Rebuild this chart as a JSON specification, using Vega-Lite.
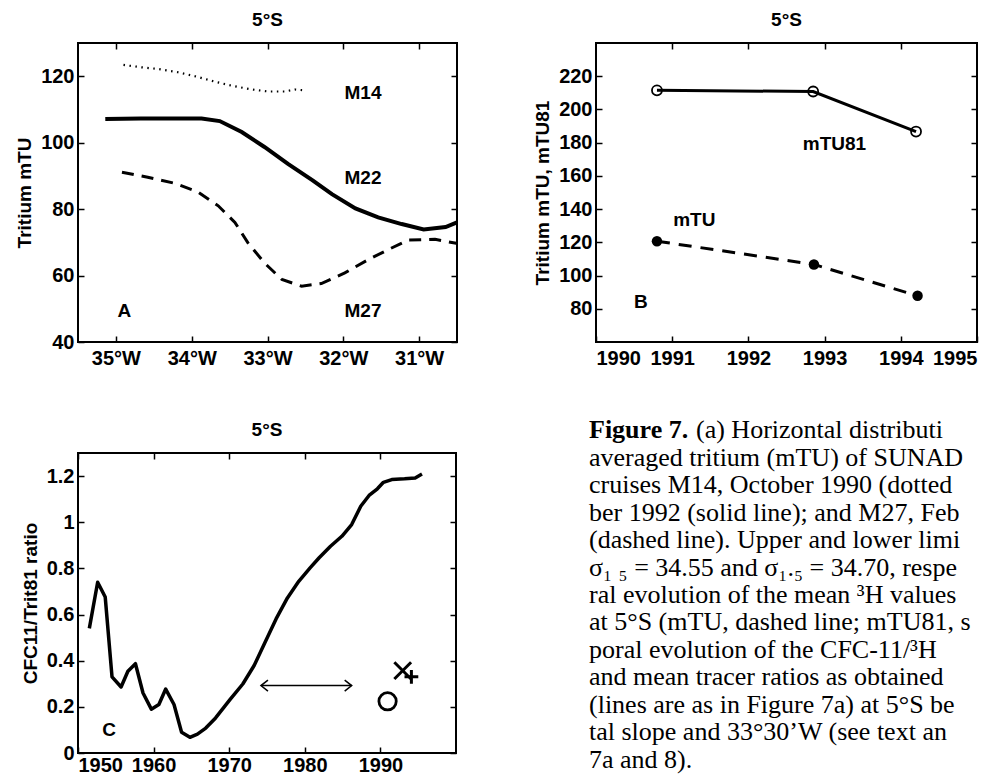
{
  "$schema": "https://vega.github.io/schema/vega-lite/v6.json",
  "padding": {"left": 14, "top": 10, "right": 0, "bottom": 0},
  "background": "white",
  "config": {
    "font": "Liberation Sans",
    "view": {"stroke": "black", "strokeWidth": 2},
    "axis": {"domain": false, "grid": false, "labelFont": "Liberation Sans", "labelFontSize": 20, "labelFontWeight": "bold", "labelColor": "black", "titleFont": "Liberation Sans", "titleFontSize": 19, "titleFontWeight": "bold", "titleColor": "black", "tickColor": "black", "tickSize": -6, "tickWidth": 1.5, "labelPadding": 10, "titlePadding": 6},
    "axisX": {"labelPadding": 12},
    "title": {"font": "Liberation Sans", "fontSize": 19, "fontWeight": "bold", "color": "black", "offset": 12},
    "text": {"font": "Liberation Sans", "fontSize": 19, "fontWeight": "bold", "color": "black"}
  },
  "columns": 2,
  "spacing": {"row": 111, "column": 139},
  "bounds": "flush",
  "concat": [
    {
      "width": 379, "height": 299,
      "title": "5°S",
      "resolve": {"axis": {"x": "independent", "y": "independent"}},
      "data": {"values": [
        {"cruise": "M14", "lon": 34.90, "tritium": 123.4},
        {"cruise": "M14", "lon": 34.67, "tritium": 122.7},
        {"cruise": "M14", "lon": 34.45, "tritium": 122.2},
        {"cruise": "M14", "lon": 34.18, "tritium": 121.2},
        {"cruise": "M14", "lon": 33.94, "tritium": 119.9},
        {"cruise": "M14", "lon": 33.70, "tritium": 118.4},
        {"cruise": "M14", "lon": 33.48, "tritium": 117.2},
        {"cruise": "M14", "lon": 33.23, "tritium": 116.1},
        {"cruise": "M14", "lon": 32.99, "tritium": 115.4},
        {"cruise": "M14", "lon": 32.77, "tritium": 115.4},
        {"cruise": "M14", "lon": 32.64, "tritium": 116.0},
        {"cruise": "M14", "lon": 32.53, "tritium": 115.8},
        {"cruise": "M22", "lon": 35.14, "tritium": 107.1},
        {"cruise": "M22", "lon": 34.67, "tritium": 107.3},
        {"cruise": "M22", "lon": 33.87, "tritium": 107.3},
        {"cruise": "M22", "lon": 33.63, "tritium": 106.5},
        {"cruise": "M22", "lon": 33.34, "tritium": 103.2},
        {"cruise": "M22", "lon": 33.04, "tritium": 98.7},
        {"cruise": "M22", "lon": 32.73, "tritium": 93.6},
        {"cruise": "M22", "lon": 32.40, "tritium": 88.6},
        {"cruise": "M22", "lon": 32.15, "tritium": 84.5},
        {"cruise": "M22", "lon": 31.84, "tritium": 80.2},
        {"cruise": "M22", "lon": 31.54, "tritium": 77.5},
        {"cruise": "M22", "lon": 31.23, "tritium": 75.5},
        {"cruise": "M22", "lon": 30.94, "tritium": 73.9},
        {"cruise": "M22", "lon": 30.65, "tritium": 74.6},
        {"cruise": "M22", "lon": 30.50, "tritium": 76.0},
        {"cruise": "M27", "lon": 34.92, "tritium": 91.1},
        {"cruise": "M27", "lon": 34.58, "tritium": 89.6},
        {"cruise": "M27", "lon": 34.23, "tritium": 87.8},
        {"cruise": "M27", "lon": 33.92, "tritium": 85.2},
        {"cruise": "M27", "lon": 33.65, "tritium": 81.0},
        {"cruise": "M27", "lon": 33.43, "tritium": 76.0},
        {"cruise": "M27", "lon": 33.26, "tritium": 69.9},
        {"cruise": "M27", "lon": 33.04, "tritium": 63.8},
        {"cruise": "M27", "lon": 32.81, "tritium": 58.8},
        {"cruise": "M27", "lon": 32.55, "tritium": 56.8},
        {"cruise": "M27", "lon": 32.29, "tritium": 57.6},
        {"cruise": "M27", "lon": 31.98, "tritium": 60.8},
        {"cruise": "M27", "lon": 31.67, "tritium": 64.8},
        {"cruise": "M27", "lon": 31.40, "tritium": 67.9},
        {"cruise": "M27", "lon": 31.14, "tritium": 70.7},
        {"cruise": "M27", "lon": 30.79, "tritium": 70.9},
        {"cruise": "M27", "lon": 30.51, "tritium": 69.7}
      ]},
      "layer": [
        {
          "transform": [{"filter": "datum.cruise === 'M22'"}],
          "mark": {"type": "line", "color": "black", "strokeWidth": 4},
          "encoding": {
            "x": {"field": "lon", "type": "quantitative", "scale": {"domain": [35.5, 30.5]}, "axis": {"values": [35, 34, 33, 32, 31], "labelExpr": "datum.value + '°W'", "title": null}},
            "y": {"field": "tritium", "type": "quantitative", "scale": {"domain": [40, 130]}, "axis": {"values": [40, 60, 80, 100, 120], "title": "Tritium mTU"}}
          }
        },
        {
          "transform": [{"filter": "datum.cruise === 'M14'"}],
          "mark": {"type": "line", "color": "black", "strokeWidth": 2.2, "strokeDash": [1.5, 4.5]},
          "encoding": {
            "x": {"field": "lon", "type": "quantitative", "axis": null},
            "y": {"field": "tritium", "type": "quantitative", "axis": null}
          }
        },
        {
          "transform": [{"filter": "datum.cruise === 'M27'"}],
          "mark": {"type": "line", "color": "black", "strokeWidth": 3, "strokeDash": [12, 8]},
          "encoding": {
            "x": {"field": "lon", "type": "quantitative", "axis": null},
            "y": {"field": "tritium", "type": "quantitative", "axis": null}
          }
        },
        {
          "data": {"values": [
            {"lon": 31.74, "tritium": 114.8, "label": "M14"},
            {"lon": 31.74, "tritium": 89.5, "label": "M22"},
            {"lon": 31.74, "tritium": 49.2, "label": "M27"},
            {"lon": 34.89, "tritium": 49.2, "label": "A"}
          ]},
          "mark": {"type": "text", "align": "center", "baseline": "middle"},
          "encoding": {
            "x": {"field": "lon", "type": "quantitative", "axis": {"orient": "top", "labels": false, "title": null, "values": [35, 34, 33, 32, 31]}},
            "y": {"field": "tritium", "type": "quantitative", "axis": {"orient": "right", "labels": false, "title": null, "values": [40, 60, 80, 100, 120]}},
            "text": {"field": "label"}
          }
        }
      ]
    },
    {
      "width": 381, "height": 299,
      "title": "5°S",
      "resolve": {"axis": {"x": "independent", "y": "independent"}},
      "data": {"values": [
        {"series": "mTU81", "year": 1990.80, "tritium": 211.5},
        {"series": "mTU81", "year": 1992.85, "tritium": 210.8},
        {"series": "mTU81", "year": 1994.20, "tritium": 186.7},
        {"series": "mTU", "year": 1990.80, "tritium": 120.7},
        {"series": "mTU", "year": 1992.86, "tritium": 106.7},
        {"series": "mTU", "year": 1994.22, "tritium": 87.8}
      ]},
      "layer": [
        {
          "transform": [{"filter": "datum.series === 'mTU81'"}],
          "mark": {"type": "line", "color": "black", "strokeWidth": 3},
          "encoding": {
            "x": {"field": "year", "type": "quantitative", "scale": {"domain": [1990, 1995]}, "axis": {"values": [1990, 1991, 1992, 1993, 1994, 1995], "format": "d", "title": null}},
            "y": {"field": "tritium", "type": "quantitative", "scale": {"domain": [70, 226]}, "axis": {"values": [80, 100, 120, 140, 160, 180, 200, 220], "title": "Tritium mTU, mTU81"}}
          }
        },
        {
          "transform": [{"filter": "datum.series === 'mTU'"}],
          "mark": {"type": "line", "color": "black", "strokeWidth": 3, "strokeDash": [13, 9]},
          "encoding": {
            "x": {"field": "year", "type": "quantitative", "axis": null},
            "y": {"field": "tritium", "type": "quantitative", "axis": null}
          }
        },
        {
          "transform": [{"filter": "datum.series === 'mTU81'"}],
          "mark": {"type": "point", "shape": "circle", "filled": false, "color": "black", "opacity": 1, "size": 100, "strokeWidth": 1.8},
          "encoding": {
            "x": {"field": "year", "type": "quantitative", "axis": null},
            "y": {"field": "tritium", "type": "quantitative", "axis": null}
          }
        },
        {
          "transform": [{"filter": "datum.series === 'mTU'"}],
          "mark": {"type": "point", "shape": "circle", "filled": true, "color": "black", "opacity": 1, "size": 110},
          "encoding": {
            "x": {"field": "year", "type": "quantitative", "axis": null},
            "y": {"field": "tritium", "type": "quantitative", "axis": null}
          }
        },
        {
          "data": {"values": [
            {"year": 1993.13, "tritium": 179.1, "label": "mTU81"},
            {"year": 1991.29, "tritium": 133.7, "label": "mTU"},
            {"year": 1990.59, "tritium": 84.3, "label": "B"}
          ]},
          "mark": {"type": "text", "align": "center", "baseline": "middle"},
          "encoding": {
            "x": {"field": "year", "type": "quantitative", "axis": {"orient": "top", "labels": false, "title": null, "values": [1991, 1992, 1993, 1994]}},
            "y": {"field": "tritium", "type": "quantitative", "axis": {"orient": "right", "labels": false, "title": null, "values": [80, 100, 120, 140, 160, 180, 200, 220]}},
            "text": {"field": "label"}
          }
        }
      ]
    },
    {
      "width": 378, "height": 300,
      "title": "5°S",
      "resolve": {"axis": {"x": "independent", "y": "independent"}},
      "layer": [
        {
          "data": {"values": [
            {"year": 1951.5, "ratio": 0.54}, {"year": 1952.6, "ratio": 0.74}, {"year": 1953.6, "ratio": 0.676},
            {"year": 1954.5, "ratio": 0.33}, {"year": 1955.7, "ratio": 0.286}, {"year": 1956.6, "ratio": 0.354},
            {"year": 1957.6, "ratio": 0.387}, {"year": 1958.6, "ratio": 0.26}, {"year": 1959.7, "ratio": 0.19},
            {"year": 1960.7, "ratio": 0.21}, {"year": 1961.6, "ratio": 0.277}, {"year": 1962.7, "ratio": 0.21},
            {"year": 1963.7, "ratio": 0.09}, {"year": 1964.8, "ratio": 0.068}, {"year": 1965.8, "ratio": 0.082},
            {"year": 1966.9, "ratio": 0.108}, {"year": 1968.2, "ratio": 0.152}, {"year": 1970.1, "ratio": 0.231},
            {"year": 1971.8, "ratio": 0.299}, {"year": 1973.3, "ratio": 0.379}, {"year": 1974.7, "ratio": 0.477},
            {"year": 1976.2, "ratio": 0.581}, {"year": 1977.7, "ratio": 0.672}, {"year": 1979.2, "ratio": 0.744},
            {"year": 1980.7, "ratio": 0.802}, {"year": 1981.9, "ratio": 0.846}, {"year": 1983.4, "ratio": 0.896},
            {"year": 1984.9, "ratio": 0.939}, {"year": 1986.2, "ratio": 0.99}, {"year": 1987.4, "ratio": 1.069},
            {"year": 1988.5, "ratio": 1.116}, {"year": 1989.6, "ratio": 1.145}, {"year": 1990.4, "ratio": 1.173},
            {"year": 1991.5, "ratio": 1.185}, {"year": 1993.2, "ratio": 1.188}, {"year": 1994.6, "ratio": 1.192},
            {"year": 1995.5, "ratio": 1.209}
          ]},
          "mark": {"type": "line", "color": "black", "strokeWidth": 3.5, "strokeJoin": "round"},
          "encoding": {
            "x": {"field": "year", "type": "quantitative", "scale": {"domain": [1950, 1998]}, "axis": {"values": [1950, 1960, 1970, 1980, 1990], "format": "d", "title": null, "labelPadding": 8}},
            "y": {"field": "ratio", "type": "quantitative", "scale": {"domain": [0, 1.3]}, "axis": {"values": [0, 0.2, 0.4, 0.6, 0.8, 1, 1.2], "format": "~g", "title": "CFC11/Trit81 ratio"}}
          }
        },
        {
          "data": {"values": [{"marker": "circle", "year": 1990.95, "ratio": 0.224}]},
          "mark": {"type": "point", "shape": "circle", "filled": false, "color": "black", "opacity": 1, "strokeWidth": 2.8, "size": 300},
          "encoding": {
            "x": {"field": "year", "type": "quantitative", "axis": null},
            "y": {"field": "ratio", "type": "quantitative", "axis": null}
          }
        },
        {
          "data": {"values": [{"marker": "x", "year": 1992.95, "ratio": 0.357}]},
          "mark": {"type": "point", "shape": "M -1 -1 L 1 1 M -1 1 L 1 -1", "filled": false, "color": "black", "opacity": 1, "strokeWidth": 3, "size": 280},
          "encoding": {
            "x": {"field": "year", "type": "quantitative", "axis": null},
            "y": {"field": "ratio", "type": "quantitative", "axis": null}
          }
        },
        {
          "data": {"values": [{"marker": "plus", "year": 1994.1, "ratio": 0.33}]},
          "mark": {"type": "point", "shape": "M -1 0 L 1 0 M 0 -1 L 0 1", "filled": false, "color": "black", "opacity": 1, "strokeWidth": 3, "size": 190},
          "encoding": {
            "x": {"field": "year", "type": "quantitative", "axis": null},
            "y": {"field": "ratio", "type": "quantitative", "axis": null}
          }
        },
        {
          "data": {"values": [{"start": 1974.2, "end": 1986.2, "ratio": 0.292}]},
          "mark": {"type": "rule", "color": "black", "strokeWidth": 1.5},
          "encoding": {
            "x": {"field": "start", "type": "quantitative", "axis": null},
            "x2": {"field": "end"},
            "y": {"field": "ratio", "type": "quantitative", "axis": null}
          }
        },
        {
          "data": {"values": [{"year": 1974.2, "ratio": 0.292}]},
          "mark": {"type": "point", "shape": "M 1.4 -1.1 L 0 0 L 1.4 1.1", "filled": false, "color": "black", "opacity": 1, "strokeWidth": 1.5, "size": 100},
          "encoding": {
            "x": {"field": "year", "type": "quantitative", "axis": null},
            "y": {"field": "ratio", "type": "quantitative", "axis": null}
          }
        },
        {
          "data": {"values": [{"year": 1986.2, "ratio": 0.292}]},
          "mark": {"type": "point", "shape": "M -1.4 -1.1 L 0 0 L -1.4 1.1", "filled": false, "color": "black", "opacity": 1, "strokeWidth": 1.5, "size": 100},
          "encoding": {
            "x": {"field": "year", "type": "quantitative", "axis": null},
            "y": {"field": "ratio", "type": "quantitative", "axis": null}
          }
        },
        {
          "data": {"values": [{"year": 1954.1, "ratio": 0.10, "label": "C"}]},
          "mark": {"type": "text", "align": "center", "baseline": "middle"},
          "encoding": {
            "x": {"field": "year", "type": "quantitative", "axis": {"orient": "top", "labels": false, "title": null, "values": [1950, 1960, 1970, 1980, 1990]}},
            "y": {"field": "ratio", "type": "quantitative", "axis": {"orient": "right", "labels": false, "title": null, "values": [0, 0.2, 0.4, 0.6, 0.8, 1, 1.2]}},
            "text": {"field": "label"}
          }
        }
      ]
    },
    {
      "width": 381, "height": 300,
      "view": {"stroke": null},
      "encoding": {
        "x": {"datum": 0, "type": "quantitative", "scale": {"domain": [0, 1]}, "axis": null},
        "y": {"field": "line", "type": "quantitative", "scale": {"domain": [1.545, 12.455], "reverse": true}, "axis": null},
        "text": {"field": "text"}
      },
      "layer": [
        {
          "data": {"values": [{"line": 1, "text": "Figure 7."}]},
          "mark": {"type": "text", "font": "Liberation Serif", "fontSize": 26, "fontWeight": "bold", "align": "left", "baseline": "alphabetic", "dx": -7}
        },
        {
          "data": {"values": [{"line": 1, "text": "(a) Horizontal distributi"}]},
          "mark": {"type": "text", "font": "Liberation Serif", "fontSize": 26, "fontWeight": "normal", "align": "left", "baseline": "alphabetic", "dx": 100, "limit": 305, "ellipsis": ""}
        },
        {
          "data": {"values": [
            {"line": 2, "text": "averaged tritium (mTU) of SUNAD"},
            {"line": 3, "text": "cruises M14, October 1990 (dotted"},
            {"line": 4, "text": "ber 1992 (solid line); and M27, Feb"},
            {"line": 5, "text": "(dashed line). Upper and lower limi"},
            {"line": 6, "text": "σ₁ ₅ = 34.55 and  σ₁.₅ = 34.70, respe"},
            {"line": 7, "text": "ral evolution of the mean ³H values"},
            {"line": 8, "text": "at 5°S (mTU, dashed line; mTU81, s"},
            {"line": 9, "text": "poral evolution of the CFC-11/³H"},
            {"line": 10, "text": "and mean tracer ratios as obtained"},
            {"line": 11, "text": "(lines are as in Figure 7a) at 5°S be"},
            {"line": 12, "text": "tal slope and 33°30’W (see text an"},
            {"line": 13, "text": "7a and 8)."}
          ]},
          "mark": {"type": "text", "font": "Liberation Serif", "fontSize": 26, "fontWeight": "normal", "align": "left", "baseline": "alphabetic", "dx": -7, "limit": 412, "ellipsis": ""}
        }
      ]
    }
  ]
}
